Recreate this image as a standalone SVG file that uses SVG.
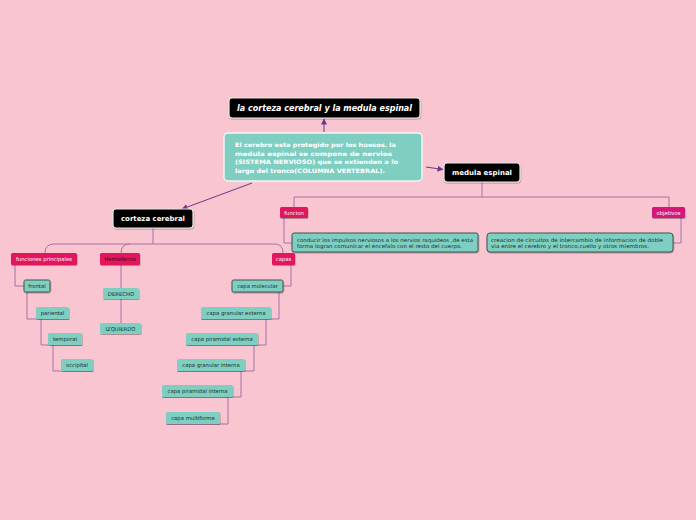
<svg xmlns="http://www.w3.org/2000/svg" width="696" height="520" viewBox="0 0 696 520">
<defs>
<marker id="ah" viewBox="0 0 6 6" refX="5.5" refY="3" markerWidth="6" markerHeight="6" orient="auto" markerUnits="userSpaceOnUse">
<path d="M0,0 L6,3 L0,6 Z" fill="#6a3a86"/>
</marker>
<filter id="sh" x="-10%" y="-20%" width="120%" height="160%">
<feDropShadow dx="0.5" dy="1" stdDeviation="0.6" flood-color="#000" flood-opacity="0.3"/>
</filter>
</defs>
<style>
text{font-family:"DejaVu Sans","Verdana",sans-serif}
.blk{fill:#000;stroke:#e8e8e8;stroke-width:1.2;filter:url(#sh)}
.tl{fill:#7ecfc1;stroke:#f4f4f4;stroke-width:1.5}
.tq{fill:#7ecfc1;filter:url(#sh)}
.td{fill:#7ecfc1;stroke:#3c5550;stroke-width:1;filter:url(#sh)}
.cr{fill:#e2195c;filter:url(#sh)}
.mg{fill:#d6157a;filter:url(#sh)}
.wt{fill:#fff;font-weight:bold}
.st{font-size:5.3px;text-anchor:middle}
.dk{fill:#16302c}
.wh{fill:#fff}
.tr{fill:none;stroke:#a872a6;stroke-width:1}
.ar{fill:none;stroke:#6a3a86;stroke-width:1}
</style>
<rect width="696" height="520" fill="#f9c5d0"/>
<g id="connectors">
<path class="ar" d="M324,132 V119" marker-end="url(#ah)"/>
<path class="ar" d="M426,167 L443,169.5" marker-end="url(#ah)"/>
<path class="ar" d="M252,183 L182,209" marker-end="url(#ah)"/>
<path class="tr" d="M482,182 V197 M294,207 V197 H669 V207"/>
<path class="tr" d="M284,218 V243 H292"/>
<path class="tr" d="M681,218 V243 H673"/>
<path class="tr" d="M153,228 V244 M45,253 Q45,244 54,244 H275 Q283,244 283,253 M121,253 Q121,244 130,244"/>
<path class="tr" d="M15,265 V286 H24"/>
<path class="tr" d="M27,292 V319 H69"/>
<path class="tr" d="M41,319 V345 H82"/>
<path class="tr" d="M53,345 V371 H93"/>
<path class="tr" d="M121,265 V288 M121,299 V323"/>
<path class="tr" d="M291,265 V286 H283"/>
<path class="tr" d="M279,292 V319 H201"/>
<path class="tr" d="M266,319 V345 H186"/>
<path class="tr" d="M254,345 V371 H177"/>
<path class="tr" d="M241,371 V397 H162"/>
<path class="tr" d="M228,397 V424 H166"/>
</g>
<g id="title">
<rect class="blk" x="229" y="98" width="191" height="20" rx="3"/>
<text class="wt" x="324.5" y="111" font-size="8" font-style="italic" text-anchor="middle" textLength="175" lengthAdjust="spacingAndGlyphs">la corteza cerebral y la medula espinal</text>
</g>
<g id="central">
<rect class="tl" x="224" y="133" width="198" height="48" rx="4"/>
<text class="wt" font-size="6">
<tspan x="235" y="147" textLength="161" lengthAdjust="spacingAndGlyphs">El cerebro esta protegido por los huesos. la</tspan>
<tspan x="235" y="155.5" textLength="157" lengthAdjust="spacingAndGlyphs">medula espinal se compone de nervios</tspan>
<tspan x="235" y="164" textLength="163" lengthAdjust="spacingAndGlyphs">(SISTEMA NERVIOSO) que se extienden a lo</tspan>
<tspan x="235" y="172.5" textLength="150" lengthAdjust="spacingAndGlyphs">largo del tronco(COLUMNA VERTEBRAL).</tspan>
</text>
</g>
<g id="medula">
<rect class="blk" x="444" y="163" width="76" height="19" rx="3"/>
<text class="wt" x="482" y="175" font-size="7" text-anchor="middle" textLength="60" lengthAdjust="spacingAndGlyphs">medula espinal</text>
</g>
<g id="corteza">
<rect class="blk" x="113" y="209" width="80" height="19" rx="3"/>
<text class="wt" x="153" y="221" font-size="7" text-anchor="middle" textLength="64" lengthAdjust="spacingAndGlyphs">corteza cerebral</text>
</g>
<g id="funcion">
<rect class="cr" x="280" y="207" width="28" height="11" rx="1.5"/>
<text class="st wh" x="294" y="214.5">funcion</text>
</g>
<g id="objetivos">
<rect class="mg" x="652" y="207" width="33" height="11" rx="1.5"/>
<text class="st wh" x="668.5" y="214.5">objetivos</text>
</g>
<g id="box1">
<rect class="td" x="292" y="233" width="186" height="19" rx="2"/>
<text class="dk" font-size="5.2">
<tspan x="297" y="241.5" textLength="176" lengthAdjust="spacingAndGlyphs">conducir los impulsos nerviosos a los nervios raquideos ,de esta</tspan>
<tspan x="297" y="248" textLength="165" lengthAdjust="spacingAndGlyphs">forma logran comunicar el encefalo con el resto del cuerpo.</tspan>
</text>
</g>
<g id="box2">
<rect class="td" x="487" y="233" width="186" height="19" rx="3"/>
<text class="dk" font-size="5.2">
<tspan x="491" y="241.5" textLength="172" lengthAdjust="spacingAndGlyphs">creacion de circuitos de intercambio  de informacion de doble</tspan>
<tspan x="491" y="248" textLength="158" lengthAdjust="spacingAndGlyphs">via entre el cerebro y el tronco,cuello y otros miembros.</tspan>
</text>
</g>
<g id="funciones">
<rect class="cr" x="11" y="253" width="66" height="12" rx="1.5"/>
<text class="st wh" x="44" y="261">funciones principales</text>
</g>
<g id="hemisferios">
<rect class="cr" x="100" y="253" width="40" height="12" rx="1.5"/>
<text class="st" x="120" y="261" fill="#3a0c1c">Hemisferios</text>
</g>
<g id="capas">
<rect class="cr" x="272" y="253" width="23" height="12" rx="1.5"/>
<text class="st wh" x="283.5" y="261">capas</text>
</g>
<g id="frontal">
<rect class="td" x="24" y="280" width="26" height="12" rx="1.5"/>
<text class="st dk" x="37" y="288">frontal</text>
</g>
<g id="pariental">
<rect class="tq" x="36" y="307" width="33" height="12" rx="1.5"/>
<text class="st dk" x="52.5" y="315">pariental</text>
</g>
<g id="temporal">
<rect class="tq" x="48" y="333" width="34" height="12" rx="1.5"/>
<text class="st dk" x="65" y="341">temporal</text>
</g>
<g id="occipital">
<rect class="tq" x="61" y="359" width="32" height="12" rx="1.5"/>
<text class="st dk" x="77" y="367">occipital</text>
</g>
<g id="derecho">
<rect class="tq" x="103" y="288" width="36" height="11" rx="1.5"/>
<text class="st dk" x="121" y="295.5">DERECHO</text>
</g>
<g id="izquierdo">
<rect class="tq" x="100" y="323" width="41" height="11" rx="1.5"/>
<text class="st dk" x="120.5" y="330.5">IZQUIERDO</text>
</g>
<g id="molecular">
<rect class="td" x="232" y="280" width="51" height="12" rx="1.5"/>
<text class="st dk" x="257.5" y="288">capa molecular</text>
</g>
<g id="granext">
<rect class="tq" x="201" y="307" width="70" height="12" rx="1.5"/>
<text class="st dk" x="236" y="315">capa granular externa</text>
</g>
<g id="piraext">
<rect class="tq" x="186" y="333" width="72" height="12" rx="1.5"/>
<text class="st dk" x="222" y="341">capa piramidal externa</text>
</g>
<g id="granint">
<rect class="tq" x="177" y="359" width="68" height="12" rx="1.5"/>
<text class="st dk" x="211" y="367">capa granular interna</text>
</g>
<g id="piraint">
<rect class="tq" x="162" y="385" width="71" height="12" rx="1.5"/>
<text class="st dk" x="197.5" y="393">capa piramidal interna</text>
</g>
<g id="multiforme">
<rect class="tq" x="166" y="412" width="54" height="12" rx="1.5"/>
<text class="st dk" x="193" y="420">capa multiforme</text>
</g>
</svg>
